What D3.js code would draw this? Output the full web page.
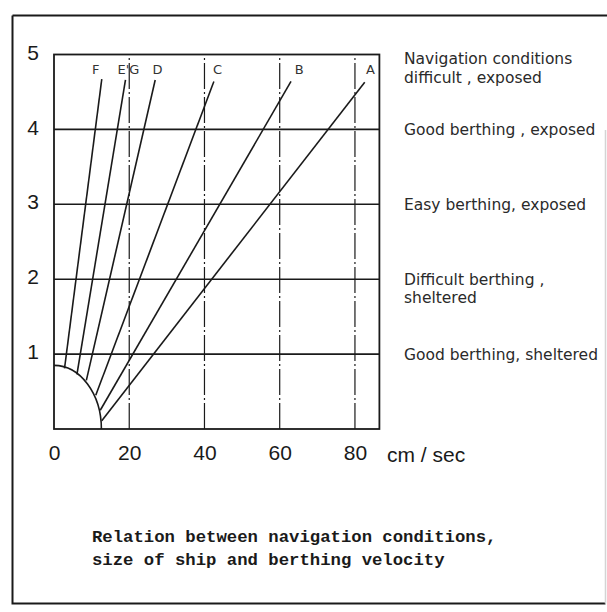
<!DOCTYPE html>
<html>
<head>
<meta charset="utf-8">
<script src="https://cdn.jsdelivr.net/npm/d3@7"></script>
<style>
  body { margin: 0; background: #fff; }
  svg { display: block; }
</style>
</head>
<body>
<div id="chart"></div>
<script>
// values
const xTicks = [0, 20, 40, 60, 80];
const yTicks = [1, 2, 3, 4, 5];
const xExtent = [0, 86.5];
const yExtent = [0, 5];
const lineNames = ['F', "E'G", 'D', 'C', 'B', 'A'];
const lineStart = [[2.8, 0.81], [6.1, 0.73], [8.6, 0.65], [11.1, 0.45], [12.3, 0.25], [12.7, 0.11]];
const lineEnd = [[12.7, 4.67], [19.0, 4.66], [26.9, 4.66], [42.5, 4.64], [63.0, 4.64], [82.6, 4.63]];
const labelX = [11.1, 19.8, 27.5, 43.5, 65.2, 84.1];
const arcRadius = [12.6, 0.85];
const conditionLevels = [4.94, 4, 3, 2, 1];
const conditionText = [
    ['Navigation conditions', 'difficult , exposed'],
    ['Good berthing , exposed'],
    ['Easy berthing, exposed'],
    ['Difficult berthing ,', 'sheltered'],
    ['Good berthing, sheltered']
];
const xUnit = 'cm / sec';
const caption = ['Relation between navigation conditions,', 'size of ship and berthing velocity'];

const width = 607;
const height = 612;
const ink = '#1a1a1a';

const svg = d3.select('#chart')
    .append('svg')
    .attr('width', width)
    .attr('height', height);

// outer frame of the scanned page
svg.append('path')
    .attr('d', 'M12.5,15.5 L12.5,603.5 L605.5,603.5')
    .attr('fill', 'none')
    .attr('stroke', ink)
    .attr('stroke-width', 2);
svg.append('path')
    .attr('d', 'M12.5,15.5 L607,15.5')
    .attr('fill', 'none')
    .attr('stroke', ink)
    .attr('stroke-width', 2);
svg.append('path')
    .attr('d', 'M605.5,130 L605.5,603.5')
    .attr('fill', 'none')
    .attr('stroke', '#d4d4d4')
    .attr('stroke-width', 1.5);

const x = d3.scaleLinear().domain(xExtent).range([54, 379.4]);
const y = d3.scaleLinear().domain(yExtent).range([429, 54.5]);

const plot = svg.append('g');

// vertical dashed grid
plot.selectAll('line.vgrid')
    .data(xTicks.filter(d => d > 0))
    .enter()
    .append('line')
    .attr('class', 'vgrid')
    .attr('x1', d => x(d))
    .attr('x2', d => x(d))
    .attr('y1', y(0))
    .attr('y2', y(5))
    .attr('stroke', ink)
    .attr('stroke-width', 1.2)
    .attr('stroke-dasharray', '26,3,2,3');

// horizontal grid
plot.selectAll('line.hgrid')
    .data(yTicks.filter(d => d < 5))
    .enter()
    .append('line')
    .attr('class', 'hgrid')
    .attr('x1', x(xExtent[0]))
    .attr('x2', x(xExtent[1]))
    .attr('y1', d => y(d))
    .attr('y2', d => y(d))
    .attr('stroke', ink)
    .attr('stroke-width', 1.6);

// box
plot.append('rect')
    .attr('x', x(xExtent[0]))
    .attr('y', y(yExtent[1]))
    .attr('width', x(xExtent[1]) - x(xExtent[0]))
    .attr('height', y(yExtent[0]) - y(yExtent[1]))
    .attr('fill', 'none')
    .attr('stroke', ink)
    .attr('stroke-width', 1.8);

// quarter arc round the origin
const rx = x(arcRadius[0]) - x(0);
const ry = y(0) - y(arcRadius[1]);
plot.append('path')
    .attr('d', `M${x(0)},${y(arcRadius[1])} A${rx},${ry} 0 0 1 ${x(arcRadius[0])},${y(0)}`)
    .attr('fill', 'none')
    .attr('stroke', ink)
    .attr('stroke-width', 1.6);

// ship lines A-F
const line = d3.line().x(d => x(d[0])).y(d => y(d[1]));
plot.selectAll('path.ship')
    .data(lineNames.map((name, i) => ({ name, pts: [lineStart[i], lineEnd[i]] })))
    .enter()
    .append('path')
    .attr('class', 'ship')
    .attr('d', d => line(d.pts))
    .attr('fill', 'none')
    .attr('stroke', ink)
    .attr('stroke-width', 1.6);

plot.selectAll('text.ship-label')
    .data(lineNames)
    .enter()
    .append('text')
    .attr('class', 'ship-label')
    .attr('x', (d, i) => x(labelX[i]))
    .attr('y', y(4.8))
    .attr('dy', '0.35em')
    .attr('text-anchor', 'middle')
    .attr('font-family', 'DejaVu Sans, sans-serif')
    .attr('font-size', 13)
    .attr('fill', '#333')
    .text(d => d);

// axes
const xAxis = d3.axisBottom(x).tickValues(xTicks).tickFormat(d3.format('d')).tickSize(0).tickPadding(16);
const gx = svg.append('g').attr('transform', `translate(0,${y(0)})`).call(xAxis);
gx.select('.domain').remove();
gx.selectAll('text')
    .attr('font-family', 'Liberation Sans, sans-serif')
    .attr('font-size', 21)
    .attr('fill', ink);

const yAxis = d3.axisLeft(y).tickValues(yTicks).tickFormat(d3.format('d')).tickSize(0).tickPadding(15);
const gy = svg.append('g').attr('transform', `translate(${x(0)},0)`).call(yAxis);
gy.select('.domain').remove();
gy.selectAll('text')
    .attr('dy', '0.22em')
    .attr('font-family', 'Liberation Sans, sans-serif')
    .attr('font-size', 21)
    .attr('fill', ink);

svg.append('text')
    .attr('x', 387)
    .attr('y', y(0) + 33)
    .attr('font-family', 'Liberation Sans, sans-serif')
    .attr('font-size', 21)
    .attr('fill', ink)
    .text(xUnit);

// condition notes on the right, one text per printed line
const noteLines = [];
conditionText.forEach((rows, i) => {
    rows.forEach((t, j) => noteLines.push({ t, level: conditionLevels[i], row: j }));
});
svg.selectAll('text.note')
    .data(noteLines)
    .enter()
    .append('text')
    .attr('class', 'note')
    .attr('x', 404)
    .attr('y', d => y(d.level) + d.row * 18.5)
    .attr('dy', '0.35em')
    .attr('font-family', 'DejaVu Sans, sans-serif')
    .attr('font-size', 15.5)
    .attr('fill', '#2a2a2a')
    .text(d => d.t);

// caption
svg.selectAll('text.caption')
    .data(caption)
    .enter()
    .append('text')
    .attr('class', 'caption')
    .attr('x', 92)
    .attr('y', (d, i) => 542 + i * 23)
    .attr('font-family', 'Liberation Mono, monospace')
    .attr('font-weight', 'bold')
    .attr('font-size', 17.3)
    .attr('fill', ink)
    .text(d => d);
</script>
</body>
</html>
